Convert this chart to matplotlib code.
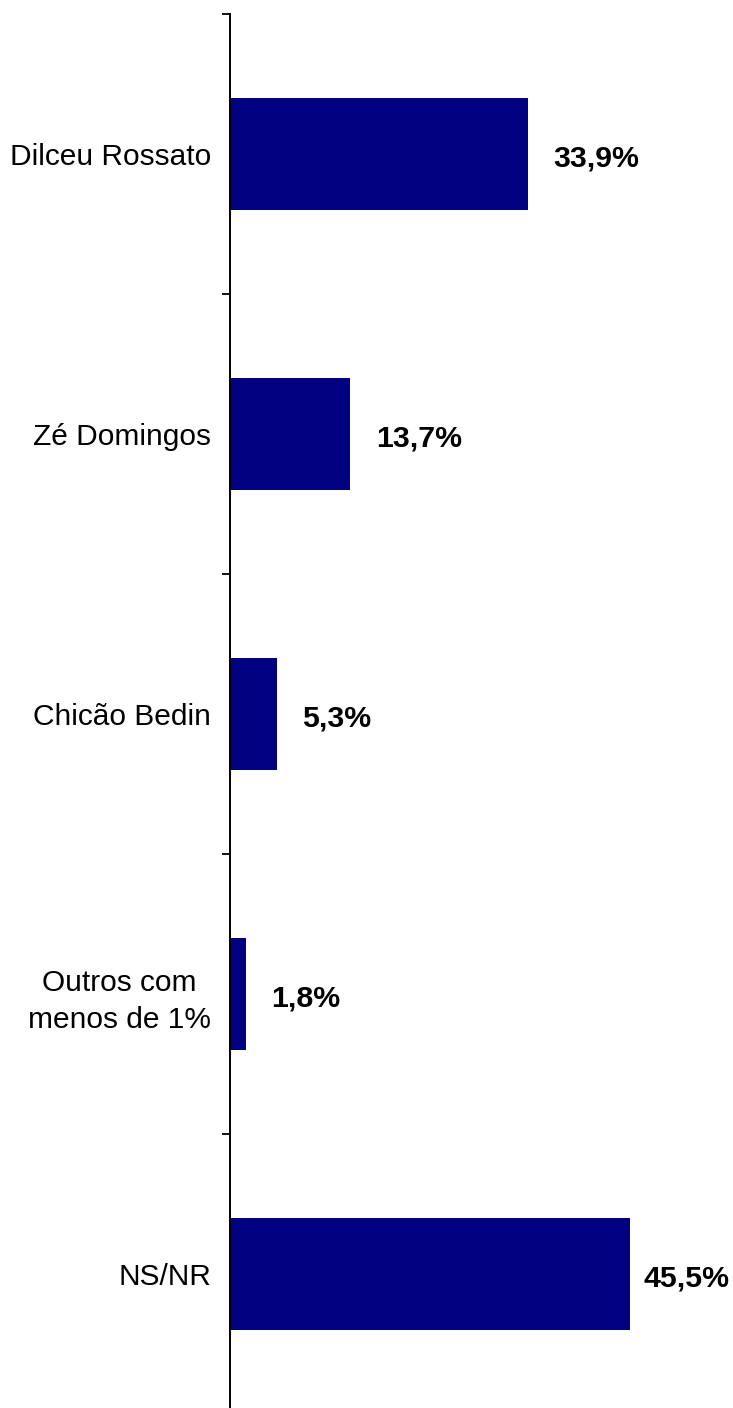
import numpy as np
import matplotlib.pyplot as plt

# data
categories = ["Dilceu Rossato", "Zé Domingos", "Chicão Bedin",
              "Outros com\nmenos de 1%", "NS/NR"]
values = [33.9, 13.7, 5.3, 1.8, 45.5]
value_labels = ["33,9%", "13,7%", "5,3%", "1,8%", "45,5%"]

BAR_COLOR = "#000080"
FONT = ["Liberation Sans", "DejaVu Sans"]

W, H = 733, 1408
fig = plt.figure(figsize=(W / 100, H / 100), dpi=100)
# axes: left spine at x=230 px, categories span y=14..1414 px
ax = fig.add_axes([230 / W, -6 / H, (W - 230) / W, 1400 / H])

y = np.arange(len(categories))
ax.barh(y, values, height=0.4, color=BAR_COLOR, zorder=2)

xmax = (W - 230) / 8.79
ax.set_xlim(0, xmax)
ax.set_ylim(len(categories) - 0.5, -0.5)

# value labels, pulled back inside when they would run off the right edge
for yi, v, lab in zip(y, values, value_labels):
    if v + 13.0 > xmax:
        ax.text(xmax - 0.45, yi + 0.015, lab, ha="right", va="center",
                fontsize=21.8, fontweight="bold", family=FONT)
    else:
        ax.text(v + 2.9, yi + 0.015, lab, ha="left", va="center",
                fontsize=21.8, fontweight="bold", family=FONT)

ax.set_yticks(y)
ax.set_yticklabels(categories, fontsize=21.5, family=FONT,
                   multialignment="center", linespacing=1.4)
ax.set_yticks(np.arange(-0.5, len(categories)), minor=True)
ax.tick_params(axis="y", which="major", length=0, pad=13.5)
ax.tick_params(axis="y", which="minor", length=6, width=1.3, direction="out")
ax.tick_params(axis="x", which="both", bottom=False, labelbottom=False)

for side in ["top", "right", "bottom"]:
    ax.spines[side].set_visible(False)
ax.spines["left"].set_linewidth(1.4)

fig.savefig("out.png", dpi=100)
